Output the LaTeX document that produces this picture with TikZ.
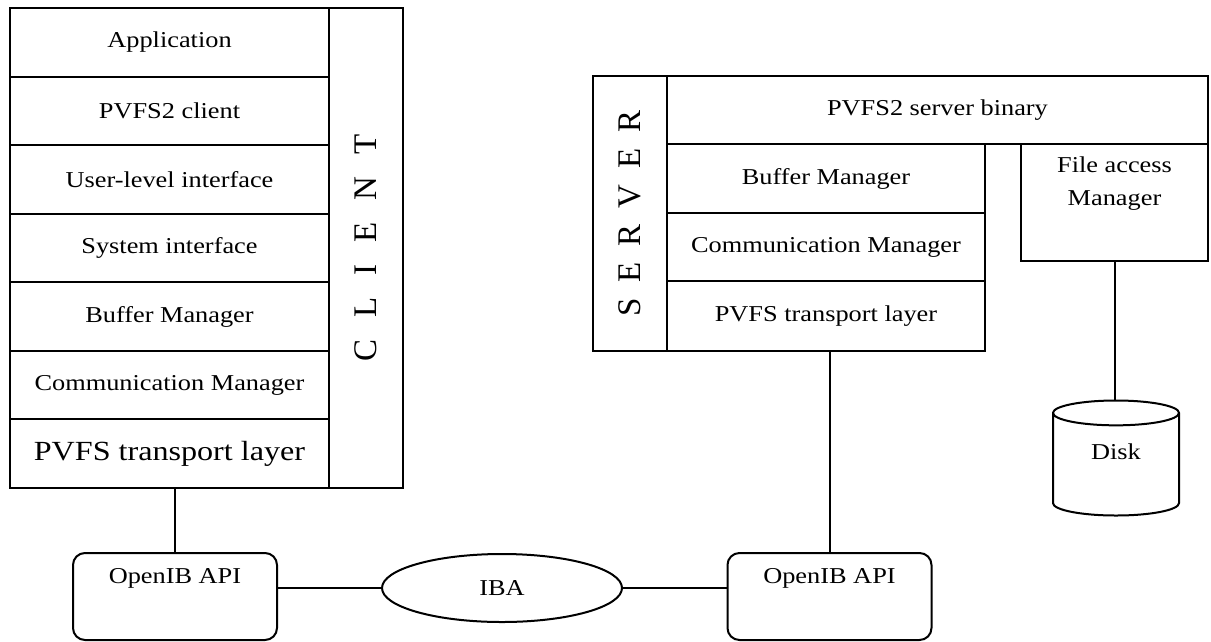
\documentclass[tikz,border=0pt]{standalone}
\usepackage{fontspec}
\setmainfont[FakeStretch=1.16]{Liberation Serif}
\newfontfamily\sidefont{Liberation Serif}
\usetikzlibrary{shapes.geometric}
\newcommand{\clsp}{\hspace{22pt}}
\newcommand{\slsp}{\hspace{16pt}}

\begin{document}
\begin{tikzpicture}[x=1pt, y=-1pt, line width=2pt]
		\tikzset{layer/.style = {shape=rectangle, draw, minimum width=319pt, minimum height=68.6pt, inner sep=0pt, font=\fontsize{22.7}{30}\selectfont}}
		\tikzset{side/.style = {shape=rectangle, draw, rotate=90, minimum height=74pt, inner sep=0pt, font=\sidefont\fontsize{33}{33}\selectfont}}
		\tikzset{api/.style = {shape=rectangle, draw, rounded corners=12pt, minimum width=204pt, minimum height=87pt}}
		\tikzset{lbl/.style = {anchor=north, align=center, inner sep=0pt, font=\fontsize{22.7}{33}\selectfont}}

		\useasboundingbox (0,0) rectangle (1211,641);

		%client
		\node[layer] (app) at (169.5,42.3) {Application};
		\node[layer] (pcl) at (169.5,110.9) {PVFS2 client};
		\node[layer] (uli) at (169.5,179.4) {User-level interface};
		\node[layer] (syi) at (169.5,248) {System interface};
		\node[layer] (cbuf) at (169.5,316.6) {Buffer Manager};
		\node[layer] (ccomm) at (169.5,385.1) {Communication Manager};
		\node[layer, font=\fontsize{27.7}{30}\selectfont] (ctrans) at (169.5,453.7) {PVFS transport layer};
		\node[side, minimum width=480pt] (ccol) at (366,248) {C\clsp L\clsp I\clsp E\clsp N\clsp T};

		%server
		\node[side, minimum width=275pt] (scol) at (630,213.5) {S\slsp E\slsp R\slsp V\slsp E\slsp R};
		\node[layer, minimum width=541pt, minimum height=68pt] (sbin) at (937.5,110) {PVFS2 server binary};
		\node[layer, minimum width=318pt, minimum height=69pt] (sbuf) at (826,178.5) {Buffer Manager};
		\node[layer, minimum width=318pt, minimum height=68pt] (scomm) at (826,247) {Communication Manager};
		\node[layer, minimum width=318pt, minimum height=70pt] (strans) at (826,316) {PVFS transport layer};
		\node[draw, minimum width=187pt, minimum height=117pt,
			label={[lbl, yshift=-13pt]north:File access\\Manager}] (fam) at (1114.5,202.5) {};
		\node[draw, cylinder, shape border rotate=90, aspect=0.44, minimum width=126pt, minimum height=115pt,
			anchor=shape center, text depth=30pt, font=\fontsize{22.7}{30}\selectfont] (disk) at (1116,458) {Disk};

		%network
		\node[api, label={[lbl, yshift=-15pt]north:OpenIB API}] (oibl) at (175,596.5) {};
		\node[draw, ellipse, minimum width=240pt, minimum height=68pt, font=\fontsize{22.7}{30}\selectfont] (iba) at (502,588) {IBA};
		\node[api, label={[lbl, yshift=-15pt]north:OpenIB API}] (oibr) at (829.5,596.5) {};

		\draw (oibl.north) -- (oibl.north |- ctrans.south);
		\draw (oibr.north) -- (oibr.north |- strans.south);
		\draw (fam.south) -- (fam.south |- disk.north);
		\draw (oibl.east |- iba.west) -- (iba.west);
		\draw (iba.east) -- (iba.east -| oibr.west);

	\end{tikzpicture}
\end{document}
